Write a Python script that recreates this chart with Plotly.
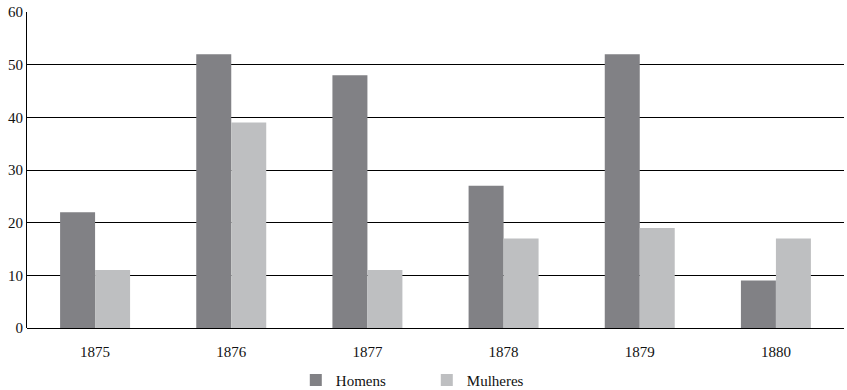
import plotly.graph_objects as go

years = ["1875", "1876", "1877", "1878", "1879", "1880"]
homens = [22, 52, 48, 27, 52, 9]
mulheres = [11, 39, 11, 17, 19, 17]

font = dict(family="Liberation Serif", size=15, color="#111111")

fig = go.Figure()
fig.add_bar(x=years, y=homens, name="Homens", marker=dict(color="#818185", line=dict(width=0)))
fig.add_bar(x=years, y=mulheres, name="Mulheres", marker=dict(color="#bebfc1", line=dict(width=0)))

fig.update_layout(
    width=847, height=390,
    margin=dict(l=27, r=3, t=12, b=62, autoexpand=False),
    paper_bgcolor="white", plot_bgcolor="white",
    barmode="group", bargap=0.486, bargroupgap=0,
    font=font,
    showlegend=True,
    legend=dict(orientation="h", x=0.329, xanchor="left", y=-0.165, yanchor="middle",
                font=font, itemwidth=30, entrywidth=86, entrywidthmode="pixels",
                traceorder="normal"),
    xaxis=dict(type="category", showgrid=False, showline=False, ticks="outside",
               ticklen=10, tickcolor="rgba(0,0,0,0)", tickfont=font),
    yaxis=dict(range=[0, 60], dtick=10, showgrid=True, gridcolor="#000000", gridwidth=1,
               showline=True, linecolor="#000000", linewidth=1, zeroline=True,
               zerolinecolor="#000000", zerolinewidth=1, ticks="", tickfont=font),
)

fig.write_html("out.html")
